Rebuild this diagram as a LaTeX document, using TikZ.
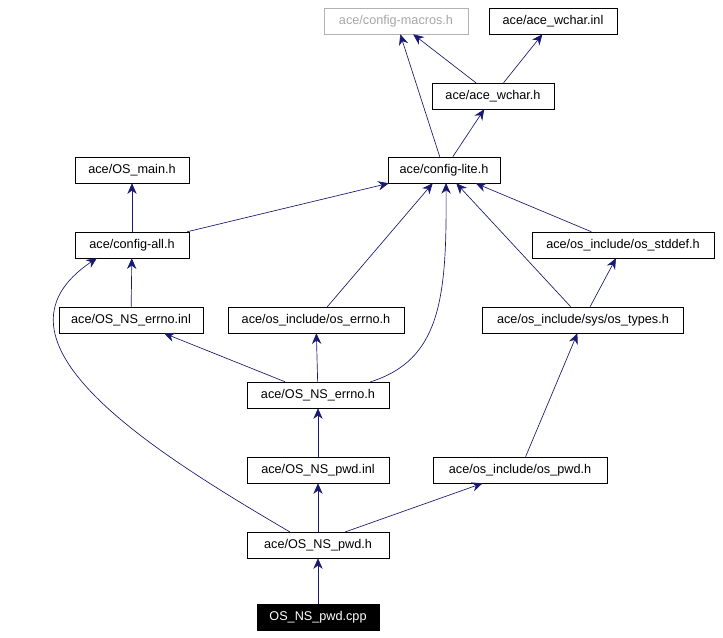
\documentclass[tikz,border=0pt]{standalone}
\usepackage{fontspec}
\setmainfont{Liberation Sans}
\usetikzlibrary{arrows.meta}
\definecolor{edgeblue}{RGB}{25,25,112}
\tikzset{
	file/.style={draw, rectangle, inner sep=0pt, minimum height=19.5pt, font=\fontsize{9.5}{11}\selectfont},
	dep/.style={draw=edgeblue, -{Stealth[length=8pt,width=7pt]}, line width=0.5pt},
}
\begin{document}
\begin{tikzpicture}[x=0.75pt,y=-0.75pt]
	\useasboundingbox (0,0) rectangle (723,637);
	\node[file, draw=gray!60, text=gray!70, minimum width=108pt] (macros) at (396,21) {ace/config-macros.h};
	\node[file, minimum width=96pt] (wcharinl) at (553,21) {ace/ace\_wchar.inl};
	\node[file, minimum width=91.5pt] (wcharh) at (493,96) {ace/ace\_wchar.h};
	\node[file, minimum width=84pt] (lite) at (444,170) {ace/config-lite.h};
	\node[file, minimum width=85.5pt] (osmain) at (132,170) {ace/OS\_main.h};
	\node[file, minimum width=85.5pt] (all) at (132,245) {ace/config-all.h};
	\node[file, minimum width=136.5pt] (stddef) at (623,245) {ace/os\_include/os\_stddef.h};
	\node[file, minimum width=108pt] (errnoinl) at (131,320) {ace/OS\_NS\_errno.inl};
	\node[file, minimum width=132pt] (oserrno) at (316,320) {ace/os\_include/os\_errno.h};
	\node[file, minimum width=150.75pt] (types) at (583,320) {ace/os\_include/sys/os\_types.h};
	\node[file, minimum width=106.5pt] (errnoh) at (318,395) {ace/OS\_NS\_errno.h};
	\node[file, minimum width=106.5pt] (pwdinl) at (318,470) {ace/OS\_NS\_pwd.inl};
	\node[file, minimum width=130.5pt] (ospwd) at (520,470) {ace/os\_include/os\_pwd.h};
	\node[file, minimum width=106.5pt] (pwdh) at (318,545) {ace/OS\_NS\_pwd.h};
	\node[file, fill=black, text=white, minimum width=91.5pt] (cpp) at (318,617) {OS\_NS\_pwd.cpp};

	% curve ends
	\coordinate (pwdhleft) at (290,532);
	\coordinate (allbot) at (97,258);
	\coordinate (errnohright) at (370,382);
	\coordinate (litebot) at (446,183);
	\coordinate (pwdhright) at (345,532);

	\draw[dep] (cpp) -- (pwdh);
	\draw[dep] (pwdh) -- (pwdinl);
	\draw[dep] (pwdhright) -- (ospwd);
	\draw[dep] (pwdhleft) .. controls (150,450) and (-25,340) .. (allbot);
	\draw[dep] (pwdinl) -- (errnoh);
	\draw[dep] (errnoh) -- (errnoinl);
	\draw[dep] (errnoh) -- (oserrno);
	\draw[dep] (errnohright) .. controls (440,360) and (447,300) .. (litebot);
	\draw[dep] (ospwd) -- (types);
	\draw[dep] (types) -- (stddef);
	\draw[dep] (types) -- (lite);
	\draw[dep] (stddef) -- (lite);
	\draw[dep] (oserrno) -- (lite);
	\draw[dep] (errnoinl) -- (all);
	\draw[dep] (all) -- (osmain);
	\draw[dep] (all) -- (lite);
	\draw[dep] (lite) -- (macros);
	\draw[dep] (lite) -- (wcharh);
	\draw[dep] (wcharh) -- (macros);
	\draw[dep] (wcharh) -- (wcharinl);
\end{tikzpicture}
\end{document}
